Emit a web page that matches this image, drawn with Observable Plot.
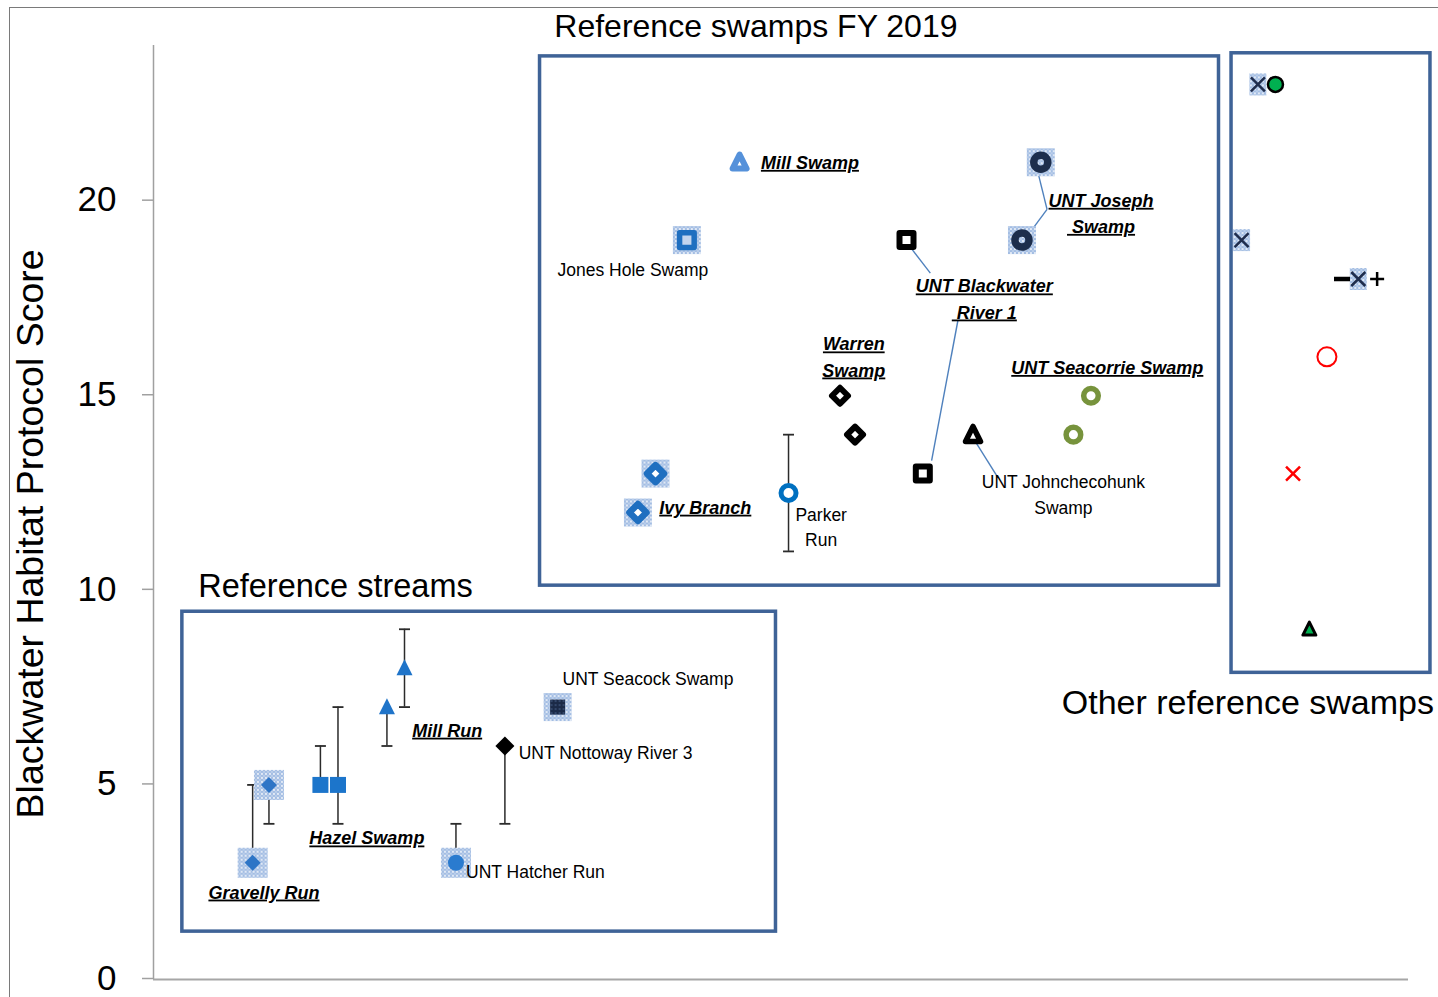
<!DOCTYPE html>
<html>
<head>
<meta charset="utf-8">
<script src="https://cdn.jsdelivr.net/npm/d3@7"></script>
<script src="https://cdn.jsdelivr.net/npm/@observablehq/plot@0.6"></script>
<style>
  html, body { margin: 0; padding: 0; background: #fff; }
  #wrap { position: relative; width: 1438px; height: 997px; overflow: hidden; }
  #frame { position: absolute; left: 9px; top: 7px; right: -2px; bottom: -2px;
           border-left: 1px solid #7a7a7a; border-top: 1px solid #7a7a7a; pointer-events: none; }
  #chart svg { display: block; }
</style>
</head>
<body>
<div id="wrap"><div id="chart"></div><div id="frame"></div></div>
<script>
// ---------------- DATA ----------------
// Reference streams (position along the unlabelled x axis, score, error-bar range)
const streamSite  = ["Gravelly Run","Gravelly Run","Hazel Swamp","Hazel Swamp","Mill Run","Mill Run","UNT Hatcher Run","UNT Nottoway River 3","UNT Seacock Swamp"];
const streamPos   = [7.9, 9.2, 13.3, 14.7, 18.6, 20.0, 24.1, 28.0, 32.2];
const streamScore = [3, 5, 5, 5, 7, 8, 3, 6, 7];
const streamLow   = [3, 4, 5, 4, 6, 7, 3, 4, 7];
const streamHigh  = [5, 5, 6, 7, 7, 9, 4, 6, 7];

// Reference swamps FY 2019
const swampSite  = ["Mill Swamp","Jones Hole Swamp","UNT Joseph Swamp","UNT Joseph Swamp","UNT Blackwater River 1","UNT Blackwater River 1","Warren Swamp","Warren Swamp","UNT Seacorrie Swamp","UNT Seacorrie Swamp","UNT Johnchecohunk Swamp","Ivy Branch","Ivy Branch","Parker Run"];
const swampPos   = [46.7, 42.5, 70.7, 69.2, 60.0, 61.3, 54.7, 55.9, 74.7, 73.3, 65.3, 40.0, 38.6, 50.6];
const swampScore = [21, 19, 21, 19, 19, 13, 15, 14, 15, 14, 14, 13, 12, 12.5];
const swampLow   = [21, 19, 21, 19, 19, 13, 15, 14, 15, 14, 14, 13, 12, 11];
const swampHigh  = [21, 19, 21, 19, 19, 13, 15, 14, 15, 14, 14, 13, 12, 14];

// Other reference swamps
const otherSeries = ["x1","dot","x2","minus","x3","plus","ring","redx","tri"];
const otherPos    = [88.0, 89.4, 86.7, 94.7, 96.0, 97.5, 93.5, 90.8, 92.1];
const otherScore  = [23, 23, 19, 18, 18, 18, 16, 13, 9];

// Y axis ticks
const yTicks = [0, 5, 10, 15, 20];

// Point labels
const labelText  = ["Gravelly Run","Hazel Swamp","Mill Run","UNT Seacock Swamp","UNT Nottoway River 3","UNT Hatcher Run","Mill Swamp","Jones Hole Swamp","UNT Joseph\n Swamp","UNT Blackwater\n River 1","Warren\nSwamp","UNT Seacorrie Swamp","UNT Johnchecohunk\nSwamp","Ivy Branch","Parker\nRun"];
const labelPos   = [8.8, 17.0, 23.4, 39.4, 29.1, 24.9, 48.4, 38.2, 75.5, 66.2, 55.8, 76.0, 72.5, 40.3, 53.2];
const labelScore = [2.23, 3.62, 6.39, 7.70, 5.80, 2.75, 20.98, 18.23, 19.67, 17.47, 15.98, 15.71, 12.44, 12.12, 11.60];
const labelStart = [false,false,false,false,true,true,true,false,false,false,false,false,false,true,false];
const labelBold  = [true,true,true,false,false,false,true,false,true,true,true,true,false,true,false];

// Leader lines (label -> point)
const leadX1 = [71.2, 71.2, 61.9, 64.1, 65.2];
const leadY1 = [19.79, 19.79, 18.15, 16.94, 13.97];
const leadX2 = [70.1, 69.5, 59.8, 62.0, 67.3];
const leadY2 = [21.23, 19.05, 19.03, 13.33, 12.89];

// Group boxes
const boxX1 = [2.3, 30.8, 85.9];
const boxX2 = [49.6, 84.9, 101.75];
const boxY1 = [1.23, 10.12, 7.88];
const boxY2 = [9.45, 23.72, 23.80];

// Group titles
const titleText  = ["Reference swamps FY 2019", "Reference streams", "Other reference swamps"];
const titlePos   = [48.0, 14.5, 87.2];
const titleScore = [24.49, 10.09, 7.09];

// ---------------- SYMBOLS ----------------
const rad = s => Math.sqrt(s / Math.PI);
const SYM = {
  square:   {draw(c, s) { const r = rad(s); c.rect(-r, -r, 2 * r, 2 * r); }},
  rectTall: {draw(c, s) { const r = rad(s); c.rect(-r * 0.85, -r * 1.1, 1.7 * r, 2.2 * r); }},
  diamond:  {draw(c, s) { const r = rad(s); c.moveTo(0, -r); c.lineTo(r, 0); c.lineTo(0, r); c.lineTo(-r, 0); c.closePath(); }},
  triangle: {draw(c, s) { const r = rad(s); c.moveTo(0, -1.1 * r); c.lineTo(r, 0.9 * r); c.lineTo(-r, 0.9 * r); c.closePath(); }},
  circle:   {draw(c, s) { const r = rad(s); c.moveTo(r, 0); c.arc(0, 0, r, 0, 2 * Math.PI); }},
  times:    {draw(c, s) { const r = rad(s); c.moveTo(-r, -r); c.lineTo(r, r); c.moveTo(r, -r); c.lineTo(-r, r); }},
  plus:     {draw(c, s) { const r = rad(s); c.moveTo(-r, 0); c.lineTo(r, 0); c.moveTo(0, -r); c.lineTo(0, r); }},
  hbar:     {draw(c, s) { const r = rad(s); c.moveTo(-r, 0); c.lineTo(r, 0); }}
};

// marker styles per series
const STY = {
  "Gravelly Run":            {bg: 15, symbol: "diamond",  r: 8,   fill: "#2E75C6", stroke: "none"},
  "Hazel Swamp":             {symbol: "square",   r: 8,   fill: "#1C75CB", stroke: "none"},
  "Mill Run":                {symbol: "triangle", r: 8,   fill: "#1F74C9", stroke: "none"},
  "UNT Hatcher Run":         {bg: 15, symbol: "circle",   r: 8,   fill: "#2A7BCF", stroke: "none"},
  "UNT Nottoway River 3":    {symbol: "diamond",  r: 9.5, fill: "#000", stroke: "none"},
  "UNT Seacock Swamp":       {bg: 14, symbol: "square",   r: 7.5, fill: "url(#navydots)", stroke: "none"},
  "Mill Swamp":              {symbol: "triangle", r: 7,   fill: "#fff", stroke: "#5591DA", sw: 6},
  "Jones Hole Swamp":        {bg: 14, symbol: "square",   r: 7.3, fill: "#C4D5EE", stroke: "#1F6FC0", sw: 5.5},
  "UNT Joseph Swamp":        {bg: 14, symbol: "circle",   r: 7,   fill: "none", stroke: "#1D2E4C", sw: 7.5},
  "UNT Blackwater River 1":  {symbol: "square",   r: 7,   fill: "#fff", stroke: "#000", sw: 6},
  "Warren Swamp":            {symbol: "diamond",  r: 8,   fill: "#fff", stroke: "#000", sw: 6},
  "UNT Seacorrie Swamp":     {symbol: "circle",   r: 7.3, fill: "#fff", stroke: "#77933C", sw: 5.5},
  "UNT Johnchecohunk Swamp": {symbol: "triangle", r: 7.5, fill: "#fff", stroke: "#000", sw: 5.5},
  "Ivy Branch":              {bg: 14, symbol: "diamond",  r: 8.5, fill: "#fff", stroke: "#1F6FC0", sw: 6.5},
  "Parker Run":              {symbol: "circle",   r: 7.5, fill: "#fff", stroke: "#0070C0", sw: 5},
  "x1":    {bg: 10, bgSym: "rectTall", symbol: "times", r: 7, fill: "none", stroke: "#1F2D4D", sw: 2.5},
  "x2":    {bg: 10, bgSym: "rectTall", symbol: "times", r: 7, fill: "none", stroke: "#1F2D4D", sw: 2.5},
  "x3":    {bg: 10, bgSym: "rectTall", symbol: "times", r: 7, fill: "none", stroke: "#1F2D4D", sw: 2.5},
  "dot":   {symbol: "circle",   r: 7.5, fill: "#00B050", stroke: "#000", sw: 2.5},
  "minus": {symbol: "hbar",     r: 8,   fill: "none", stroke: "#000", sw: 4.5},
  "plus":  {symbol: "plus",     r: 7,   fill: "none", stroke: "#000", sw: 2.5},
  "ring":  {symbol: "circle",   r: 9.5, fill: "none", stroke: "#FF0000", sw: 2},
  "redx":  {symbol: "times",    r: 7,   fill: "none", stroke: "#FF0000", sw: 2.5},
  "tri":   {symbol: "triangle", r: 6.5, fill: "#00B050", stroke: "#000", sw: 3}
};

// ---------------- TABLES ----------------
const points = [
  ...streamSite.map((s, i) => ({key: s, pos: streamPos[i], score: streamScore[i], low: streamLow[i], high: streamHigh[i]})),
  ...swampSite.map((s, i) => ({key: s, pos: swampPos[i], score: swampScore[i], low: swampLow[i], high: swampHigh[i]})),
  ...otherSeries.map((s, i) => ({key: s, pos: otherPos[i], score: otherScore[i], low: otherScore[i], high: otherScore[i]}))
];
const errBars = points.filter(d => d.low !== d.high);
const caps = errBars.flatMap(d => [d.low, d.high].filter(v => v !== d.score).map(v => ({pos: d.pos, score: v})));
const labels = labelText.map((t, i) => ({t, pos: labelPos[i], score: labelScore[i], start: labelStart[i], bold: labelBold[i]}));
const leaders = leadX1.map((v, i) => ({x1: v, y1: leadY1[i], x2: leadX2[i], y2: leadY2[i]}));
const boxes = boxX1.map((v, i) => ({x1: v, x2: boxX2[i], y1: boxY1[i], y2: boxY2[i]}));
const titles = titleText.map((t, i) => ({t, pos: titlePos[i], score: titleScore[i]}));

// ---------------- MARKS ----------------
const keys = Object.keys(STY);
const bgMarks = keys.filter(k => STY[k].bg).map(k => Plot.dot(points.filter(d => d.key === k), {
  x: "pos", y: "score", symbol: SYM[STY[k].bgSym || "square"], r: STY[k].bg, fill: "url(#chk)", stroke: "none"
}));
const fgMarks = keys.map(k => {
  const s = STY[k];
  return Plot.dot(points.filter(d => d.key === k), {
    x: "pos", y: "score", symbol: SYM[s.symbol], r: s.r,
    fill: s.fill || "none", stroke: s.stroke || "none", strokeWidth: s.sw || 0,
    strokeLinejoin: "round"
  });
});

const labelFont = "'Liberation Sans', Arial, sans-serif";
const mk = (filter, opts) => Plot.text(labels.filter(filter), {
  x: "pos", y: "score", text: "t", lineHeight: 1.45, fill: "#000", dy: -2.5, ...opts
});

const chart = Plot.plot({
  width: 1438, height: 997,
  marginLeft: 153, marginRight: 30, marginTop: 45, marginBottom: 18,
  x: {domain: [0, 100], axis: null},
  y: {domain: [0, 24], axis: null},
  style: {fontFamily: labelFont, background: "transparent", overflow: "visible"},
  marks: [
    Plot.ruleY([0], {stroke: "#A6A6A6", strokeWidth: 2}),
    Plot.ruleX([0], {y1: 0, y2: 24, stroke: "#A0A0A0", strokeWidth: 1.5}),
    Plot.axisY({ticks: yTicks, tickSize: 11, tickPadding: 26, fontSize: 35, stroke: "#A0A0A0", strokeWidth: 1.5, tickFormat: d => String(d), label: null, dy: -1}),
    Plot.text(["Blackwater Habitat Protocol Score"], {x: 0, y: 11.45, dx: -123, text: d => d, rotate: -90, fontSize: 37.5, fill: "#000"}),
    Plot.rect(boxes, {x1: "x1", x2: "x2", y1: "y1", y2: "y2", fill: "none", stroke: "#3F6397", strokeWidth: 3.5}),
    Plot.text(titles.slice(0, 1), {x: "pos", y: "score", text: "t", fontSize: 32, fill: "#000"}),
    Plot.text(titles.slice(1, 2), {x: "pos", y: "score", text: "t", fontSize: 32.5, fill: "#000"}),
    Plot.text(titles.slice(2, 3), {x: "pos", y: "score", text: "t", fontSize: 34, fill: "#000"}),
    Plot.link(leaders, {x1: "x1", y1: "y1", x2: "x2", y2: "y2", stroke: "#4F81BD", strokeWidth: 1.4}),
    Plot.ruleX(errBars, {x: "pos", y1: "low", y2: "high", stroke: "#2B2B2B", strokeWidth: 1.5}),
    Plot.dot(caps, {x: "pos", y: "score", symbol: SYM.hbar, r: 5.5, stroke: "#2B2B2B", strokeWidth: 1.8, fill: "none"}),
    ...bgMarks,
    ...fgMarks,
    mk(d => d.bold && !d.start, {fontSize: 18, fontWeight: "bold", fontStyle: "italic", textAnchor: "middle"}),
    mk(d => d.bold && d.start, {fontSize: 18, fontWeight: "bold", fontStyle: "italic", textAnchor: "start"}),
    mk(d => !d.bold && !d.start, {fontSize: 17.5, textAnchor: "middle"}),
    mk(d => !d.bold && d.start, {fontSize: 17.5, textAnchor: "start"})
  ]
});

// patterns for the checkered marker backgrounds
const svg = d3.select(chart);
const defs = svg.insert("defs", ":first-child");
const p1 = defs.append("pattern").attr("id", "chk").attr("patternUnits", "userSpaceOnUse").attr("width", 4).attr("height", 4);
p1.append("rect").attr("width", 4).attr("height", 4).attr("fill", "#A3BDE3");
p1.append("circle").attr("cx", 1).attr("cy", 1).attr("r", 0.9).attr("fill", "#fff");
p1.append("circle").attr("cx", 3).attr("cy", 3).attr("r", 0.7).attr("fill", "#E4ECF8");
const p2 = defs.append("pattern").attr("id", "navydots").attr("patternUnits", "userSpaceOnUse").attr("width", 4).attr("height", 4);
p2.append("rect").attr("width", 4).attr("height", 4).attr("fill", "#1B2A47");
p2.append("circle").attr("cx", 2).attr("cy", 2).attr("r", 0.7).attr("fill", "#5E7AA8");

// underline the bold italic site names
svg.selectAll("g[font-weight=bold] text").style("text-decoration", "underline");

document.getElementById("chart").appendChild(chart);
</script>
</body>
</html>
